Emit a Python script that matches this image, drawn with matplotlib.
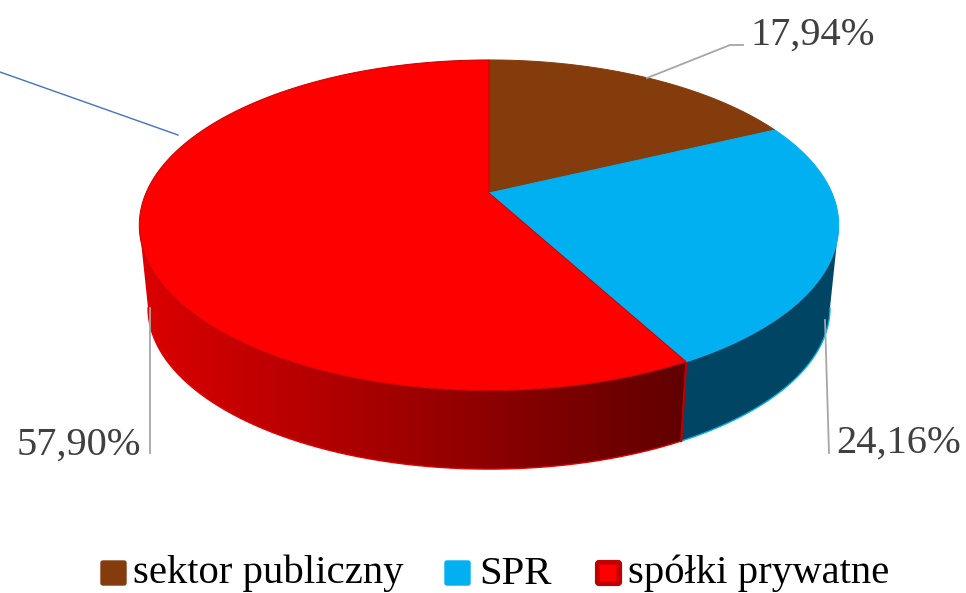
import numpy as np
import matplotlib
matplotlib.use('Agg')
import matplotlib.pyplot as plt
from matplotlib.patches import FancyBboxPatch, Polygon

plt.rcParams['font.family'] = ['Liberation Serif', 'DejaVu Serif']

categories = ['sektor publiczny', 'SPR', 'spółki prywatne']
values = [17.94, 24.16, 57.90]
top_colors = ['#843c0c', '#00b0f0', '#ff0000']
edge_colors = ['#843c0c', '#00b0f0', '#c80000']

# pie geometry in pixels
CX, CY = 489, 193
A, B, K = 343, 159, 0.195
DEPTH, SHRINK = 83.5, 0.975
T_RIGHT = np.arccos(-K)
T_LEFT = 2 * np.pi - T_RIGHT


def top_xy(t):
    w = 1 + K * np.cos(t)
    return CX + A * np.sin(t) / w, CY - B * np.cos(t) / w


def bottom_xy(t):
    w = 1 + K * np.cos(t)
    return CX + SHRINK * A * np.sin(t) / w, CY + DEPTH - SHRINK * B * np.cos(t) / w


def wall(t0, t1):
    ts = np.linspace(t0, t1, 200)
    tx, ty = top_xy(ts)
    bx, by = bottom_xy(ts[::-1])
    return np.c_[np.r_[tx, bx], np.r_[ty, by]]


fig = plt.figure(figsize=(9.66, 5.93), dpi=100)
ax = fig.add_axes([0, 0, 1, 1])

edges = np.radians(np.concatenate([[0], np.cumsum(values)]) * 3.6)

# side walls
ax.add_patch(Polygon(wall(T_RIGHT, edges[2]), fc='#004563', ec='none', zorder=2))

grad = np.zeros((2, 256, 3))
grad[:, :, 0] = np.linspace(222, 94, 256) / 255
img = ax.imshow(grad, extent=[130, 695, 480, 200], aspect='auto', zorder=2)
red_wall = Polygon(wall(edges[2], T_LEFT), fc='none', ec='none', zorder=2)
ax.add_patch(red_wall)
img.set_clip_path(red_wall)

ts = np.linspace(T_RIGHT, edges[2], 100)
ax.plot(*bottom_xy(ts), color='#00b0f0', lw=1, zorder=3)
ts = np.linspace(edges[2], T_LEFT, 200)
ax.plot(*bottom_xy(ts), color='#e00000', lw=1, zorder=3)

# red edge between the two visible walls
x0, y0 = top_xy(edges[2])
x1, y1 = bottom_xy(edges[2])
ax.plot([x0, x1], [y0, y1], color='#c00000', lw=1.6, zorder=3)

# top faces
for i in range(3):
    ts = np.linspace(edges[i], edges[i + 1], 200)
    x, y = top_xy(ts)
    ax.fill(np.r_[CX, x], np.r_[CY, y], facecolor=top_colors[i], edgecolor=edge_colors[i],
            lw=0.7, zorder=4)

# leader lines
ax.plot([647, 730, 743], [78, 45, 45], color='#a6a6a6', lw=1.3, zorder=5)
ax.plot([150, 150], [308, 453], color='#a6a6a6', lw=1.3, zorder=5)
ax.plot([825, 829], [320, 453], color='#a6a6a6', lw=1.3, zorder=5)
ax.plot([0, 178], [72, 135], color='#4472c4', lw=1, zorder=5)

# value labels
label_pos = [(750, 45), (836, 453), (17, 455)]
for v, (lx, ly) in zip(values, label_pos):
    ax.text(lx, ly, f'{v:.2f}%'.replace('.', ','), fontsize=29.2, color='#404040',
            ha='left', va='baseline', zorder=6)

# legend
legend_x = [100, 444, 595]
legend_text_x = [133, 479, 628]
for name, c, e, bx, tx in zip(categories, top_colors, edge_colors, legend_x, legend_text_x):
    if name == 'spółki prywatne':
        ax.add_patch(FancyBboxPatch((bx + 2, 562), 23, 22, boxstyle='round,pad=0,rounding_size=2',
                                    fc='#e00000', ec='#c00000', lw=3))
        ax.add_patch(plt.Rectangle((bx + 5, 565), 16, 16, fc='#ff0000', ec='none', zorder=3))
    else:
        ax.add_patch(FancyBboxPatch((bx + 1, 561), 25, 24, boxstyle='round,pad=0,rounding_size=2',
                                    fc=c, ec=c, lw=1))
    ax.text(tx, 583.5, name, fontsize=29.3, color='#000000', ha='left', va='baseline')

ax.set_xlim(0, 966)
ax.set_ylim(593, 0)
ax.axis('off')

fig.savefig('out.png', dpi=100)
